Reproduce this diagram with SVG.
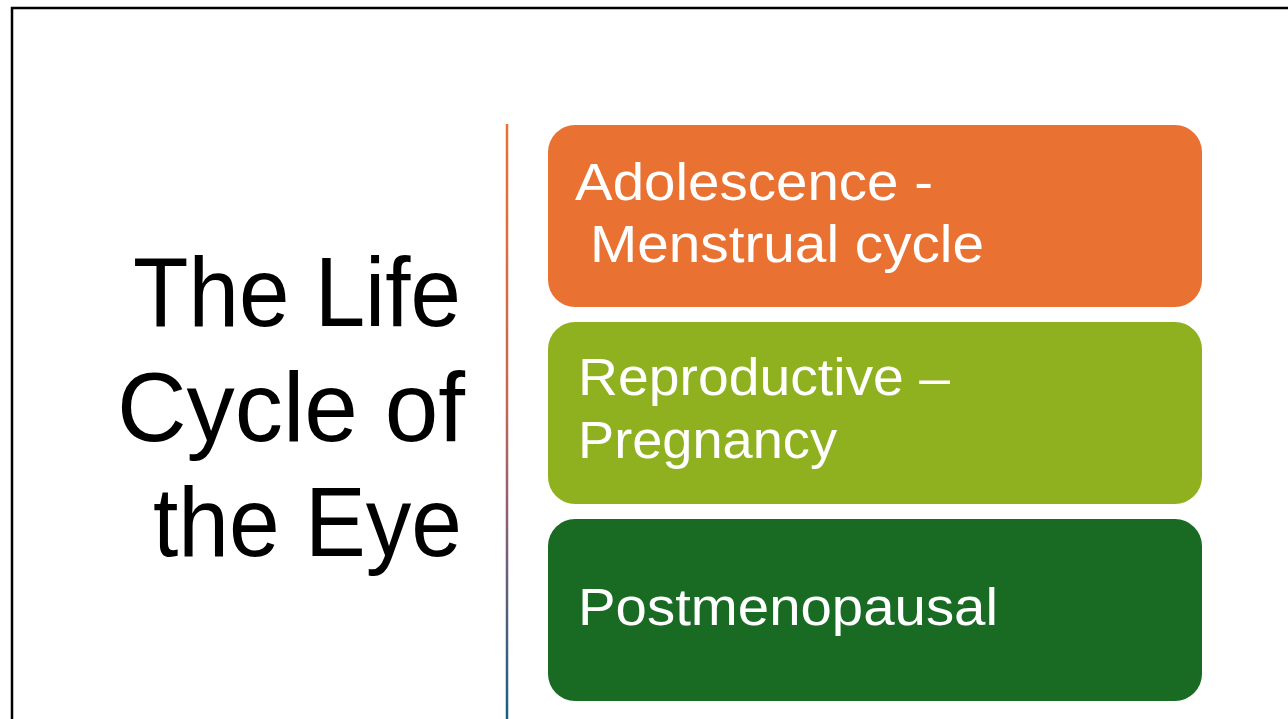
<svg xmlns="http://www.w3.org/2000/svg" width="1288" height="719" viewBox="0 0 1288 719">
  <defs>
    <linearGradient id="divGrad" gradientUnits="userSpaceOnUse" x1="0" y1="124" x2="0" y2="719">
      <stop offset="0" stop-color="#E97132"/>
      <stop offset="0.45" stop-color="#C8684F"/>
      <stop offset="0.65" stop-color="#8E5E74"/>
      <stop offset="1" stop-color="#156082"/>
    </linearGradient>
  </defs>
  <style>
    .title { font-family: "Liberation Sans", Arial, sans-serif; font-size: 98px; fill: #000000; }
    .label { font-family: "Liberation Sans", Arial, sans-serif; font-size: 51px; fill: #FFFFFF; }
    .box { stroke: none; }
  </style>
  <rect x="0" y="0" width="1288" height="719" fill="#FFFFFF"/>
  <rect x="12" y="8" width="1400" height="900" fill="none" stroke="#000000" stroke-width="2.5"/>

  <g id="title">
    <text class="title" x="133" y="326" textLength="328" lengthAdjust="spacingAndGlyphs">The Life</text>
    <text class="title" x="117" y="441" textLength="348" lengthAdjust="spacingAndGlyphs">Cycle of</text>
    <text class="title" x="153" y="556" textLength="309" lengthAdjust="spacingAndGlyphs">the Eye</text>
  </g>

  <g id="divider">
    <line x1="507" y1="124" x2="507" y2="719" stroke="url(#divGrad)" stroke-width="2.5"/>
  </g>

  <g id="connectors"></g>

  <g id="node-adolescence">
    <rect class="box" x="548" y="125" width="654" height="182" rx="27" ry="27" fill="#E97132"/>
    <text class="label" x="575" y="200" textLength="358" lengthAdjust="spacingAndGlyphs">Adolescence -</text>
    <text class="label" x="590" y="262" textLength="394" lengthAdjust="spacingAndGlyphs">Menstrual cycle</text>
  </g>

  <g id="node-reproductive">
    <rect class="box" x="548" y="322" width="654" height="182" rx="27" ry="27" fill="#8FB120"/>
    <text class="label" x="578" y="395" textLength="372" lengthAdjust="spacingAndGlyphs">Reproductive –</text>
    <text class="label" x="578" y="458" textLength="259" lengthAdjust="spacingAndGlyphs">Pregnancy</text>
  </g>

  <g id="node-postmenopausal">
    <rect class="box" x="548" y="519" width="654" height="182" rx="27" ry="27" fill="#196B24"/>
    <text class="label" x="578" y="625" textLength="420" lengthAdjust="spacingAndGlyphs">Postmenopausal</text>
  </g>
</svg>
